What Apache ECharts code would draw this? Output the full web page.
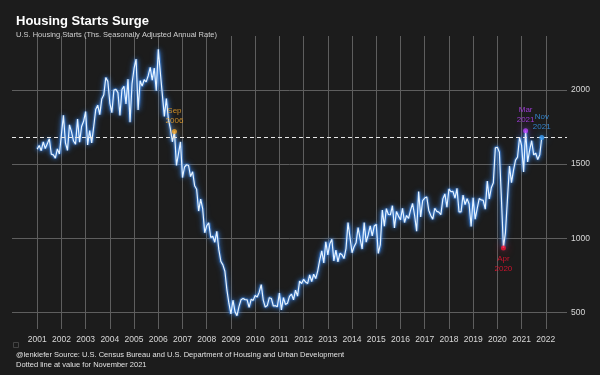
<!doctype html>
<html>
    <head>
        <meta charset="utf-8">
        <title>Housing Starts Surge</title>
        <style>
            html, body { margin: 0; padding: 0; background: #1c1c1c; }
            #main { width: 600px; height: 375px; }
        </style>
    </head>
    <body>
        <div id="main"></div>
        <script src="https://cdn.jsdelivr.net/npm/echarts@6/dist/echarts.min.js"></script>
        <script>

// monthly housing starts, thousands SAAR, Jan 2001 .. Nov 2021
var startYear = 2001;
var starts = [
    1600, 1625, 1590, 1649, 1605, 1636, 1670, 1567, 1562, 1540, 1602, 1568,
    1698, 1829, 1642, 1592, 1764, 1717, 1655, 1633, 1804, 1648, 1753, 1788,
    1853, 1629, 1726, 1643, 1751, 1867, 1897, 1833, 1939, 1967, 2083, 2057,
    1911, 1846, 1998, 2003, 1981, 1828, 2002, 2024, 1905, 2072, 1782, 2042,
    2144, 2207, 1864, 2061, 2025, 2068, 2054, 2095, 2151, 2065, 2147, 1994,
    2273, 2119, 1969, 1821, 1942, 1802, 1737, 1650, 1720, 1491, 1570, 1649,
    1409, 1480, 1495, 1490, 1415, 1448, 1354, 1330, 1183, 1264, 1197, 1037,
    1084, 1103, 1005, 1013, 973, 1046, 923, 844, 820, 777, 652, 560,
    490, 582, 505, 478, 540, 585, 594, 586, 585, 534, 588, 581,
    614, 604, 636, 687, 583, 536, 546, 599, 594, 543, 545, 539,
    630, 517, 600, 554, 561, 608, 623, 585, 650, 610, 711, 694,
    723, 704, 695, 753, 708, 757, 728, 780, 854, 915, 833, 976,
    888, 962, 993, 847, 919, 841, 898, 889, 863, 930, 1105, 1003,
    902, 943, 969, 1072, 997, 927, 1105, 974, 1022, 1083, 1015, 1082,
    1093, 898, 956, 1190, 1081, 1199, 1160, 1158, 1219, 1070, 1180, 1149,
    1124, 1202, 1106, 1153, 1133, 1189, 1234, 1153, 1047, 1314, 1144, 1254,
    1271, 1278, 1189, 1153, 1128, 1202, 1181, 1176, 1159, 1265, 1299, 1209,
    1332, 1313, 1316, 1270, 1336, 1177, 1177, 1290, 1226, 1266, 1231, 1079,
    1273, 1128, 1199, 1267, 1258, 1255, 1196, 1385, 1265, 1340, 1374, 1609,
    1613, 1579, 1269, 934, 1038, 1265, 1487, 1375, 1459, 1526, 1547, 1680,
    1625, 1447, 1725, 1514, 1594, 1657, 1562, 1573, 1530, 1563, 1679
];

var yearTicks = [2001, 2002, 2003, 2004, 2005, 2006, 2007, 2008, 2009, 2010, 2011,
                 2012, 2013, 2014, 2015, 2016, 2017, 2018, 2019, 2020, 2021, 2022];
var valueTicks = [500, 1000, 1500, 2000];

// highlighted months: [year, month(1-12), label, colour, label side]
var highlights = [
    [2006, 9, 'Sep\n2006', '#f5a82a', 'top'],
    [2021, 3, 'Mar\n2021', '#bb44ff', 'top'],
    [2021, 11, 'Nov\n2021', '#389cf5', 'top'],
    [2020, 4, 'Apr\n2020', '#f51232', 'bottom']
];
var refValue = 1679; // November 2021

var lineData = starts.map(function (v, i) {
    return [startYear + i / 12, v];
});

function valueAt(year, month) {
    return starts[(year - startYear) * 12 + month - 1];
}

var font = 'Liberation Sans';
var chart = echarts.init(document.getElementById('main'), null, { renderer: 'canvas' });

var pointSeries = highlights.map(function (h) {
    return {
        type: 'scatter',
        data: [[h[0] + (h[1] - 1) / 12, valueAt(h[0], h[1])]],
        symbolSize: 5,
        z: 5,
        itemStyle: {
            color: h[3],
            shadowColor: h[3],
            shadowBlur: 8
        },
        label: {
            show: true,
            position: h[4],
            distance: 3,
            formatter: h[2],
            color: h[3],
            fontFamily: font,
            fontSize: 8,
            lineHeight: 10
        }
    };
});

chart.setOption({
    backgroundColor: '#1c1c1c',
    animation: false,
    title: [{
        text: 'Housing Starts Surge',
        left: 11,
        top: 10,
        textStyle: { color: '#ffffff', fontSize: 13, fontWeight: 'bold', fontFamily: font }
    }, {
        text: 'U.S. Housing Starts (Ths. Seasonally Adjusted Annual Rate)',
        left: 11,
        top: 26,
        textStyle: { color: '#d0d0d0', fontSize: 7.5, fontWeight: 'normal', fontFamily: font }
    }, {
        text: '@lenkiefer Source: U.S. Census Bureau and U.S. Department of Housing and Urban Development\nDotted line at value for November 2021',
        left: 11,
        top: 345,
        textStyle: { color: '#e0e0e0', fontSize: 7.5, lineHeight: 10, fontWeight: 'normal', fontFamily: font }
    }],
    grid: {
        left: 12,
        right: 33,
        top: 36,
        bottom: 46
    },
    xAxis: {
        type: 'value',
        min: 1999.96,
        max: 2022.875,
        axisLine: { show: false },
        axisTick: { show: false, customValues: yearTicks },
        axisLabel: {
            customValues: yearTicks,
            formatter: function (v) { return String(v); },
            color: '#d8d8d8',
            fontSize: 8.5,
            fontFamily: font,
            margin: 6
        },
        splitLine: { show: true, lineStyle: { color: '#5e5e5e', width: 1 } }
    },
    yAxis: {
        type: 'value',
        position: 'right',
        min: 388,
        max: 2363,
        axisLine: { show: false },
        axisTick: { show: false, customValues: valueTicks },
        axisLabel: {
            customValues: valueTicks,
            formatter: function (v) { return String(v); },
            color: '#d8d8d8',
            fontSize: 8.5,
            fontFamily: font,
            margin: 4
        },
        splitLine: { show: true, lineStyle: { color: '#5e5e5e', width: 1 } }
    },
    series: [{
        // soft blue glow under the line
        type: 'line',
        data: lineData,
        showSymbol: false,
        silent: true,
        z: 2,
        lineStyle: {
            color: 'rgba(70,150,255,0.35)',
            width: 3.5,
            shadowColor: 'rgba(60,140,255,0.9)',
            shadowBlur: 6
        }
    }, {
        type: 'line',
        data: lineData,
        showSymbol: false,
        z: 3,
        lineStyle: {
            color: '#e6f3ff',
            width: 1.2,
            shadowColor: '#3f95ff',
            shadowBlur: 4
        },
        markLine: {
            silent: true,
            symbol: 'none',
            label: { show: false },
            lineStyle: { color: '#e8e8e8', type: [4, 3], width: 1.2 },
            data: [{ yAxis: refValue }]
        }
    }].concat(pointSeries),
    graphic: [{
        type: 'rect',
        left: 11,
        top: 340,
        shape: { width: 5, height: 5 },
        style: { fill: 'none', stroke: '#444', lineWidth: 1 }
    }]
});
        </script>
    </body>
</html>
